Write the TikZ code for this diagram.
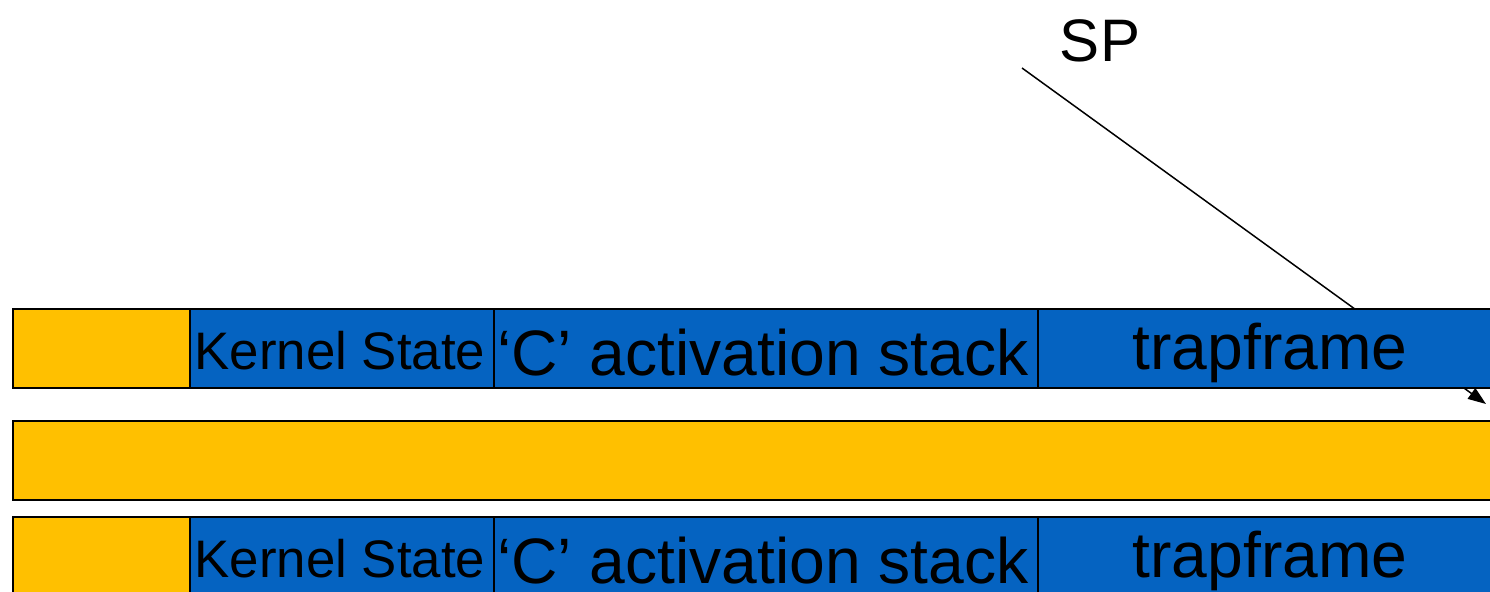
\documentclass[tikz,border=0pt]{standalone}
\usepackage{fontspec}
\setmainfont{Liberation Sans}
\usetikzlibrary{arrows.meta}
\definecolor{kyellow}{HTML}{FFC000}
\definecolor{kblue}{HTML}{0563C1}
\tikzset{
  cell/.style={draw=black, line width=1pt, inner sep=0pt},
  ycell/.style={cell, fill=kyellow},
  bcell/.style={cell, fill=kblue},
  small/.style={font=\fontsize{26.4}{30}\selectfont},
  big/.style={font=\fontsize{32.1}{36}\selectfont},
  ptr/.style={line width=0.75pt, -{Triangle[length=9pt,width=6.5pt]}}
}
\begin{document}
\begin{tikzpicture}[x=0.5pt,y=-0.5pt]
\useasboundingbox (0,0) rectangle (1490,592);
\clip (0,0) rectangle (1490,592);
% pointer (drawn beneath the boxes)
\node[font=\fontsize{30}{34}\selectfont, anchor=center] (sp) at (1100,41) {SP};
\coordinate (s) at (1022,68);
\coordinate (e) at (1486,404);
\draw[ptr] (s) -- (e);
% row 1
\draw[ycell] (13,309) rectangle (190,388);
\draw[bcell] (190,309) rectangle (494,388);
\draw[bcell] (494,309) rectangle (1038,388);
\draw[bcell] (1038,309) rectangle (1502,388);
\node[small] (ks1) at (340,351) {Kernel State};
\node[big] (cs1) at (763,353) {‘C’ activation stack};
\node[big] (tf1) at (1270,353) {trapframe};
% row 2
\draw[ycell] (13,421) rectangle (1502,500);
% row 3
\draw[ycell] (13,517) rectangle (190,596);
\draw[bcell] (190,517) rectangle (494,596);
\draw[bcell] (494,517) rectangle (1038,596);
\draw[bcell] (1038,517) rectangle (1502,596);
\node[small] (ks3) at (340,559) {Kernel State};
\node[big] (cs3) at (763,561) {‘C’ activation stack};
\node[big] (tf3) at (1270,561) {trapframe};
\end{tikzpicture}
\end{document}
